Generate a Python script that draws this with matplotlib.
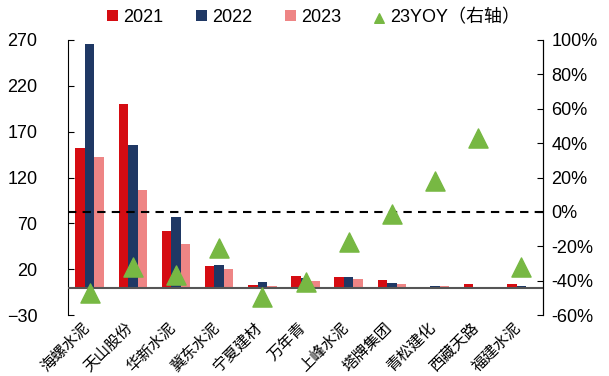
import matplotlib
matplotlib.use("Agg")
import matplotlib.pyplot as plt
import matplotlib.transforms as mtrans
import numpy as np

plt.rcParams['font.family'] = ['Liberation Sans', 'Noto Sans CJK SC', 'DejaVu Sans']

categories = ["海螺水泥", "天山股份", "华新水泥", "冀东水泥", "宁夏建材", "万年青",
              "上峰水泥", "塔牌集团", "青松建化", "西藏天路", "福建水泥"]
v2021 = [152, 200, 62, 23, 2.5, 12.4, 11, 8.4, 1.0, 3.3, 3.3]
v2022 = [266, 155, 77, 25, 6.2, 10, 11, 4.7, 1.5, 0.6, 1.5]
v2023 = [142, 106, 48, 20, 2.0, 6.6, 9, 4.0, 1.5, 0.8, 0.6]
yoy23 = [-47, -32, -37, -21, -49.5, -41, -17.5, -1, 18, 43, -32]
left_ticks = [-30, 20, 70, 120, 170, 220, 270]
right_ticks = [-60, -40, -20, 0, 20, 40, 60, 80, 100]

c21, c22, c23, cg = "#D50C12", "#1F3864", "#EE8585", "#77B843"

fig = plt.figure(figsize=(6.09, 3.76), dpi=100)
ax = fig.add_axes([68/609, 1-315/376, (543-68)/609, (315-40)/376])
x = np.arange(len(categories))
w = 0.22
ax.bar(x - w, v2021, w, color=c21, label="2021", zorder=2)
ax.bar(x, v2022, w, color=c22, label="2022", zorder=2)
ax.bar(x + w, v2023, w, color=c23, label="2023", zorder=2)
ax.set_ylim(-30, 270)
ax.set_xlim(-0.5, len(categories) - 0.5)
ax.set_yticks(left_ticks)
ax.axhline(0, color="#555555", lw=1.5, zorder=3)
for s in ["top", "bottom"]:
    ax.spines[s].set_visible(False)
ax.spines["left"].set_color("black")
ax.tick_params(axis="y", direction="in", length=4, labelsize=13, pad=22)
ax.tick_params(axis="x", length=0, pad=0)
ax.set_xticks(x)
labels = ax.set_xticklabels(categories, rotation=45, ha="right", va="center",
                            rotation_mode="anchor", fontsize=11.2,
                            family=['Noto Sans CJK SC'])

ax2 = ax.twinx()
ax2.set_ylim(-60, 100)
ax2.set_yticks(right_ticks)
ax2.set_yticklabels([f"{t}%" for t in right_ticks])
ax2.tick_params(axis="y", direction="in", length=4, labelsize=13, pad=6)
for s in ["top", "bottom", "left"]:
    ax2.spines[s].set_visible(False)
ax2.axhline(0, color="black", lw=1.5, ls=(0, (4, 3)), zorder=1)
ax2.scatter(x, yoy23, marker="^", s=190, color=cg, label="23YOY（右轴）", zorder=4)

h1, l1 = ax.get_legend_handles_labels()
h2, l2 = ax2.get_legend_handles_labels()
fig.legend(h1 + h2, l1 + l2, loc="upper center", bbox_to_anchor=(0.515, 1.02), ncol=4,
           frameon=False, fontsize=13, handlelength=0.6, handleheight=0.6,
           handletextpad=0.3, columnspacing=1.8, markerscale=0.5)

# place tick labels: right edge near x=93 px for the first one, bottom just inside the figure
fig.canvas.draw()
r = fig.canvas.get_renderer()
bb = labels[0].get_window_extent(r)
dx = 93 - bb.x1
dy = 1 - bb.y0
off = mtrans.ScaledTranslation(dx / fig.dpi, dy / fig.dpi, fig.dpi_scale_trans)
for lb in labels:
    lb.set_transform(lb.get_transform() + off)

fig.savefig("out.png", dpi=100)
